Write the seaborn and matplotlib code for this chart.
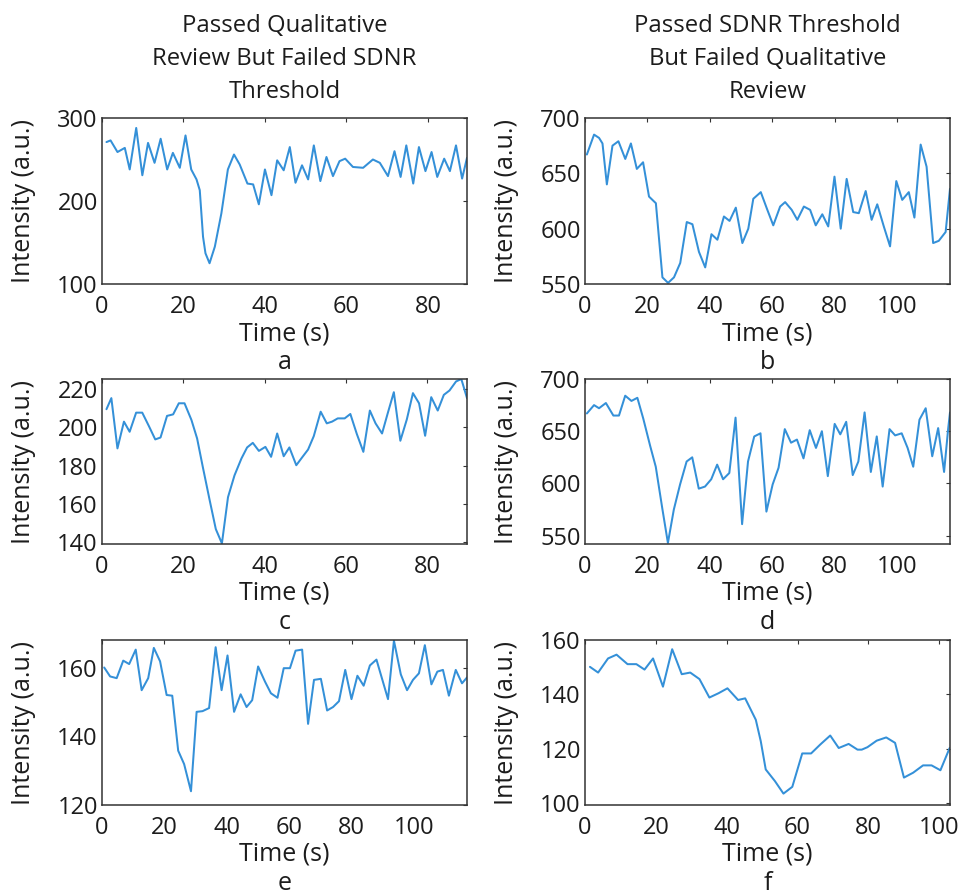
import matplotlib
matplotlib.use("Agg")
import matplotlib.pyplot as plt
import pandas as pd
import seaborn as sns

# ---- time-intensity curves (Time in s, Intensity in a.u.) ----
time_a = [1.1, 2.1, 3.8, 5.6, 6.8, 8.4, 9.9, 11.3, 12.9, 14.4, 16.0, 17.4, 19.1, 20.5, 21.9,
          23.2, 24.0, 24.8, 25.4, 26.4, 27.7, 29.3, 30.9, 32.4, 33.8, 35.7, 37.1, 38.5, 40.0, 41.6,
          43.0, 44.6, 46.1, 47.5, 49.1, 50.6, 52.0, 53.6, 55.1, 56.7, 58.3, 59.7, 61.6, 64.1, 66.5,
          68.2, 70.2, 71.8, 73.3, 74.7, 76.4, 77.8, 79.4, 80.9, 82.3, 84.0, 85.4, 86.9, 88.4, 89.6]
intensity_a = [271, 273, 259, 264, 238, 288, 231, 270, 246, 275, 238, 258, 240, 279, 238,
               226, 213, 157, 137, 125, 145, 185, 238, 256, 244, 221, 220, 196, 238, 207,
               249, 237, 265, 222, 243, 226, 267, 224, 253, 230, 248, 251, 241, 240, 250,
               246, 230, 260, 229, 267, 221, 265, 236, 259, 229, 251, 236, 267, 227, 252]

time_b = [0.6, 2.9, 4.5, 5.6, 7.0, 8.8, 10.7, 12.9, 14.7, 16.6, 18.6, 20.5, 22.7, 24.8, 26.6,
          28.5, 30.5, 32.6, 34.4, 36.5, 38.5, 40.5, 42.4, 44.5, 46.3, 48.3, 50.4, 52.3, 53.9, 56.3,
          58.4, 60.3, 62.5, 64.1, 66.2, 68.0, 70.1, 72.1, 73.9, 76.0, 77.9, 79.9, 81.9, 83.8, 85.9,
          87.7, 89.9, 91.8, 93.6, 95.7, 97.7, 99.7, 101.6, 103.7, 105.5, 107.5, 109.4, 111.5, 113.3,
          115.5, 116.9]
intensity_b = [667, 685, 682, 677, 640, 675, 679, 663, 677, 654, 660, 629, 623, 556, 551,
               556, 569, 606, 604, 579, 565, 595, 590, 611, 607, 619, 587, 600, 627, 633,
               617, 603, 620, 624, 617, 608, 620, 617, 603, 613, 602, 647, 600, 645, 615,
               614, 634, 608, 622, 602, 584, 643, 626, 633, 610, 676, 656, 587, 589,
               597, 636]

time_c = [1.1, 2.3, 3.8, 5.4, 6.8, 8.4, 9.9, 11.6, 13.1, 14.4, 16.0, 17.5, 18.9, 20.3, 22.0,
          23.4, 24.8, 26.5, 28.0, 29.5, 31.0, 32.6, 34.3, 35.7, 37.1, 38.6, 40.2, 41.6, 43.1, 44.7,
          46.1, 47.8, 49.2, 50.7, 52.1, 53.8, 55.3, 56.6, 58.0, 59.7, 61.1, 62.7, 64.3, 65.9, 67.3,
          68.9, 70.3, 71.8, 73.4, 75.0, 76.5, 78.0, 79.5, 81.0, 82.6, 84.1, 85.5, 87.1, 88.4, 89.8]
intensity_c = [209.5, 215.3, 189.0, 203.0, 197.7, 207.7, 207.7, 200.4, 193.7, 194.7, 206.0, 206.8,
               212.6, 212.6, 203.9, 194.2, 179.3, 161.8, 146.8, 139.3, 163.5, 174.9, 183.7, 189.5,
               191.9, 187.7, 189.8, 184.6, 196.8, 184.9, 189.5, 180.2, 184.2, 188.4, 195.4, 208.2,
               202.1, 203.0, 204.7, 204.7, 207.0, 196.5, 187.2, 208.8, 202.1, 196.8, 207.4, 218.4,
               193.0, 204.2, 217.9, 212.6, 195.6, 215.8, 208.8, 217.0, 219.3, 224.0, 225.3, 215.3]

time_d = [0.6, 2.9, 4.5, 6.7, 9.1, 10.9, 12.9, 14.9, 16.8, 18.7, 20.9, 22.7, 24.8, 26.6, 28.5,
          30.5, 32.6, 34.4, 36.5, 38.5, 40.5, 42.4, 44.3, 46.3, 48.3, 50.4, 52.3, 54.3, 56.3, 58.2,
          60.2, 62.1, 64.1, 66.1, 68.0, 70.1, 72.1, 74.1, 76.0, 77.9, 80.1, 81.9, 83.8, 85.9, 87.7,
          89.7, 91.7, 93.6, 95.5, 97.7, 99.5, 101.6, 103.5, 105.3, 107.3, 109.3, 111.4, 113.3,
          115.2, 116.5, 117.1]
intensity_d = [667, 675, 672, 677, 665, 665, 684, 679, 682, 662, 636, 616, 576, 543, 575,
               599, 621, 625, 595, 597, 604, 618, 604, 610, 663, 561, 621, 645, 648, 573,
               599, 615, 652, 639, 642, 624, 651, 634, 650, 607, 657, 647, 659, 608, 621,
               668, 611, 645, 597, 652, 646, 648, 634, 616, 661, 672, 626, 653,
               611, 652, 668]

time_e = [0.7, 2.6, 4.7, 6.8, 8.7, 10.8, 12.7, 14.8, 16.6, 18.6, 20.7, 22.5, 24.4, 26.3, 28.5,
          30.3, 32.2, 34.3, 36.4, 38.3, 40.2, 42.3, 44.4, 46.3, 48.1, 50.0, 52.2, 54.1, 56.2, 58.2,
          60.2, 62.0, 64.1, 66.0, 67.9, 70.1, 72.1, 74.0, 75.9, 77.9, 79.9, 81.8, 83.8, 85.8, 87.9,
          89.8, 91.6, 93.5, 95.7, 97.7, 99.6, 101.5, 103.4, 105.5, 107.4, 109.2, 111.1, 113.3,
          115.3, 116.9]
intensity_e = [160.0, 157.4, 156.9, 162.0, 161.0, 165.2, 153.4, 156.9, 165.7, 161.8, 152.0, 151.8,
               135.8, 131.9, 124.0, 147.1, 147.3, 148.2, 165.9, 153.4, 163.5, 147.1, 152.2, 148.5,
               150.5, 160.3, 155.9, 152.5, 151.2, 159.8, 159.8, 164.9, 165.2, 143.6, 156.4, 156.7,
               147.5, 148.5, 150.2, 159.3, 150.8, 157.6, 154.7, 160.6, 162.3, 156.4, 150.8, 167.8,
               158.0, 153.4, 156.4, 158.3, 166.5, 155.1, 158.8, 159.3, 151.8, 159.3, 155.4, 157.1]

time_f = [1.4, 3.7, 6.5, 8.9, 12.0, 14.5, 16.8, 19.2, 22.0, 24.6, 27.3, 29.7, 32.3, 35.1, 37.7,
          40.2, 43.2, 45.2, 48.2, 49.6, 51.0, 53.6, 56.0, 58.5, 61.3, 63.8, 66.4, 69.2, 71.6, 74.4,
          76.9, 78.1, 79.7, 82.3, 85.0, 87.5, 90.0, 92.6, 95.4, 97.8, 100.3, 102.9]
intensity_f = [150.1, 148.0, 153.2, 154.6, 151.1, 151.1, 149.1, 153.2, 142.8, 156.6, 147.4, 148.0,
               145.6, 138.8, 140.4, 142.2, 137.9, 138.5, 130.6, 122.7, 112.3, 108.0, 103.4, 105.9,
               118.2, 118.2, 121.5, 124.8, 120.2, 121.7, 119.6, 119.6, 120.5, 122.9, 124.1, 122.1,
               109.3, 111.1, 113.8, 113.8, 112.0, 120.2]

panel_letters = ["a", "b", "c", "d", "e", "f"]
y_ticks = [[100, 200, 300], [550, 600, 650, 700], [140, 160, 180, 200, 220],
           [550, 600, 650, 700], [120, 140, 160], [100, 120, 140, 160]]
y_limits = [(100, 300), (550, 700), (139, 225.3), (542, 700), (120, 168), (99.2, 160)]
x_ticks = [[0, 20, 40, 60, 80], [0, 20, 40, 60, 80, 100], [0, 20, 40, 60, 80],
           [0, 20, 40, 60, 80, 100], [0, 20, 40, 60, 80, 100], [0, 20, 40, 60, 80, 100]]
x_limits = [(0, 89.6), (0, 116.9), (0, 89.8), (0, 117.1), (0, 116.9), (0, 103)]
column_titles = [["Passed Qualitative", "Review But Failed SDNR", "Threshold"],
                 ["Passed SDNR Threshold", "But Failed Qualitative", "Review"]]

series = [(time_a, intensity_a), (time_b, intensity_b), (time_c, intensity_c),
          (time_d, intensity_d), (time_e, intensity_e), (time_f, intensity_f)]

sns.set_theme(style="white")
plt.rcParams["font.family"] = ["Open Sans", "DejaVu Sans"]

W, H = 965, 896
fig = plt.figure(figsize=(W / 100, H / 100), dpi=100)

# panel boxes in pixels: left, top, right, bottom
col_x = [(102, 467), (585, 950)]
row_y = [(118, 284), (379, 544), (640, 805)]

line_color = "#3490d8"
frame_color = "#333333"
text_color = "#1c1c1c"

for i, (t, y) in enumerate(series):
    r, c = divmod(i, 2)
    l, rgt = col_x[c]
    top, bot = row_y[r]
    ax = fig.add_axes([l / W, 1 - bot / H, (rgt - l) / W, (bot - top) / H])
    df = pd.DataFrame({"Time (s)": t, "Intensity (a.u.)": y})
    sns.lineplot(data=df, x="Time (s)", y="Intensity (a.u.)", ax=ax, color=line_color,
                 linewidth=1.45, estimator=None, sort=False)
    ax.set_xlim(*x_limits[i])
    ax.set_ylim(*y_limits[i])
    ax.set_xticks(x_ticks[i])
    ax.set_yticks(y_ticks[i])
    for s in ax.spines.values():
        s.set_visible(True)
        s.set_color(frame_color)
        s.set_linewidth(1.1)
    ax.tick_params(axis="both", direction="in", length=3, width=0.8, color=frame_color,
                   top=True, right=True, labelsize=17, labelcolor=text_color)
    ax.tick_params(axis="x", pad=8)
    ax.tick_params(axis="y", pad=3)
    ax.set_xlabel("Time (s)", fontsize=18, color=text_color)
    ax.set_ylabel("Intensity (a.u.)", fontsize=18, color=text_color)
    ax.xaxis.set_label_coords(0.5, -0.224)
    ax.yaxis.set_label_coords(-0.182, 0.5)
    ax.text(0.5, -0.515, panel_letters[i], transform=ax.transAxes, ha="center",
            va="baseline", fontsize=18, color=text_color)

# column headings
for c, lines in enumerate(column_titles):
    cx = (col_x[c][0] + col_x[c][1]) / 2
    for k, txt in enumerate(lines):
        fig.text(cx / W, 1 - (31.7 + 33.3 * k) / H, txt, ha="center", va="baseline",
                 fontsize=17.2, color=text_color)

fig.savefig("out.png", dpi=100, facecolor="white")
